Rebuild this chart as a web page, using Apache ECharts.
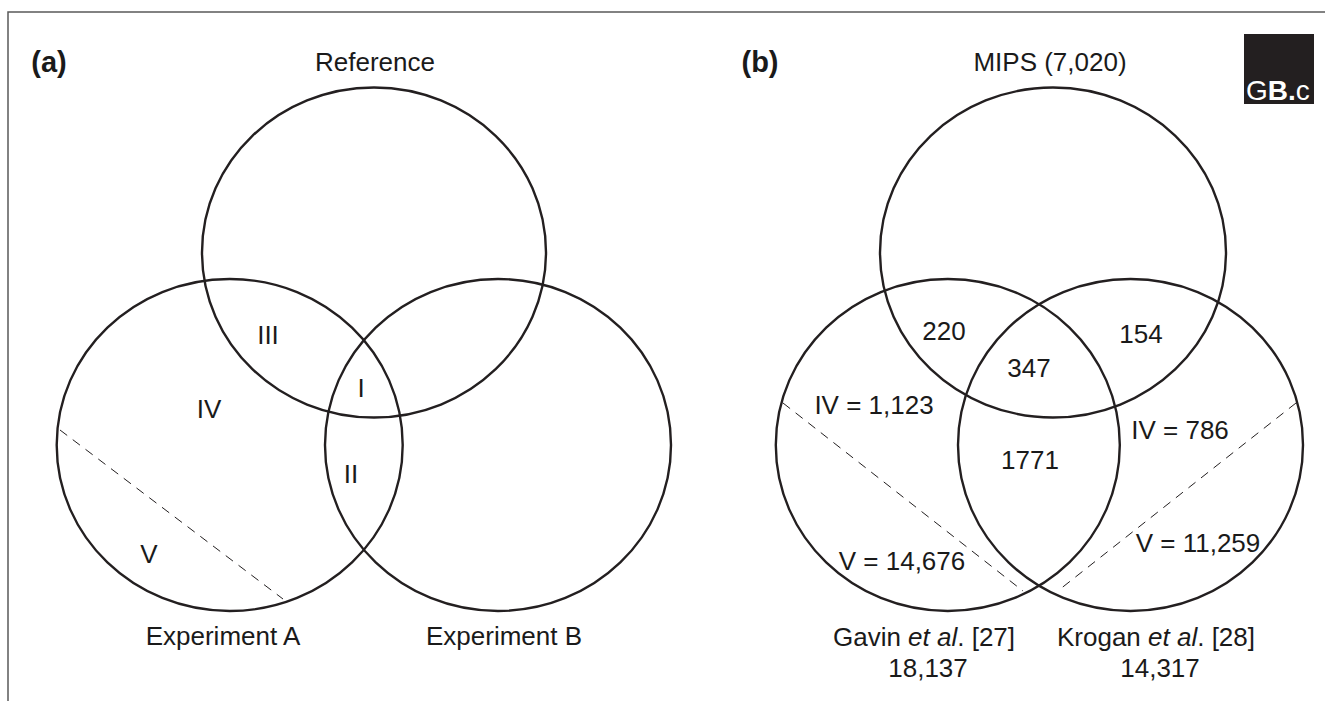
<!DOCTYPE html>
<html>
<head>
<meta charset="utf-8">
<script src="https://cdn.jsdelivr.net/npm/echarts@6/dist/echarts.min.js"></script>
<style>
  html, body { margin: 0; padding: 0; background: #ffffff; }
  #chart { width: 1325px; height: 701px; }
</style>
</head>
<body>
<div id="chart"></div>
<script>
// ---------- data (text/values) ----------
const panelTags = ['(a)', '(b)'];
const setNamesA = ['Reference', 'Experiment A', 'Experiment B'];
const regionNamesA = ['I', 'II', 'III', 'IV', 'V'];
const setNamesB = ['MIPS (7,020)', 'Gavin {i|et al}. [27]', 'Krogan {i|et al}. [28]'];
const setSizesB = ['18,137', '14,317'];
const overlapValuesB = [220, 347, 154, 1771];
const regionIVB = ['IV = 1,123', 'IV = 786'];
const regionVB = ['V = 14,676', 'V = 11,259'];

// ---------- layout (in data units of a hidden 1325 x 701 plane) ----------
const circlesA = [[374, 252.5, 172, 165], [229.7, 445, 173, 166], [498, 445, 173, 166]];
const circlesB = [[1053, 252.5, 173, 165], [947.8, 445, 172, 166], [1130.5, 445, 172.5, 166]];
const dashLines = [[60, 430, 283, 599], [783, 403, 1023, 591], [1296, 403, 1059, 590]];
const tagPos = [[49, 62], [760, 62]];
const setNamePosA = [[375, 62], [223, 636], [504, 636]];
const regionPosA = [[361, 388], [351, 474], [268, 335], [209, 409], [149, 554]];
const setNamePosB = [[1050, 62], [924, 637], [1156, 637]];
const setSizePosB = [[928, 668], [1160, 668]];
const overlapPosB = [[944, 331], [1029, 368], [1141, 334], [1030, 460]];
const regionIVPosB = [[874, 405], [1180, 430]];
const regionVPosB = [[902, 561], [1198, 543]];

const INK = '#1a1a1a';
const FONT = '"Liberation Sans", Arial, Helvetica, sans-serif';

function textItems(texts, positions) {
  return texts.map((t, i) => ({ value: [positions[i][0], positions[i][1]], text: String(t) }));
}

const labelData = []
  .concat(textItems(setNamesA, setNamePosA))
  .concat(textItems(regionNamesA, regionPosA))
  .concat(textItems(setNamesB, setNamePosB))
  .concat(textItems(setSizesB, setSizePosB))
  .concat(textItems(overlapValuesB, overlapPosB))
  .concat(textItems(regionIVB, regionIVPosB))
  .concat(textItems(regionVB, regionVPosB));

const tagData = textItems(panelTags, tagPos);

function ellipseSeries(data) {
  return {
    type: 'custom',
    silent: true,
    data: data,
    renderItem: function (params, api) {
      const c = api.coord([api.value(0), api.value(1)]);
      const s = api.size([api.value(2), api.value(3)]);
      return {
        type: 'ellipse',
        shape: { cx: c[0], cy: c[1], rx: Math.abs(s[0]), ry: Math.abs(s[1]) },
        style: { fill: 'none', stroke: '#231f20', lineWidth: 2.4 }
      };
    }
  };
}

const chart = echarts.init(document.getElementById('chart'), null, { renderer: 'svg' });

chart.setOption({
  animation: false,
  backgroundColor: '#ffffff',
  grid: { left: 0, right: 0, top: 0, bottom: 0 },
  xAxis: { type: 'value', min: 0, max: 1325, show: false },
  yAxis: { type: 'value', min: 0, max: 701, inverse: true, show: false },
  graphic: [
    {
      type: 'polyline',
      silent: true,
      shape: { points: [[8, 701], [8, 12], [1325, 12]] },
      style: { fill: 'none', stroke: '#5a5a5a', lineWidth: 1.5 }
    },
    {
      type: 'rect',
      silent: true,
      shape: { x: 1244, y: 34, width: 70, height: 70 },
      style: { fill: '#231f20' }
    },
    {
      type: 'text',
      silent: true,
      x: 1246, y: 104,
      style: {
        text: '{g|G}{b|B.}{d|c}',
        verticalAlign: 'bottom',
        rich: {
          g: { fontFamily: FONT, fontSize: 28, fill: '#ffffff', fontWeight: 'lighter' },
          b: { fontFamily: FONT, fontSize: 28, fill: '#ffffff', fontWeight: 'bold' },
          d: { fontFamily: FONT, fontSize: 28, fill: '#ffffff', fontWeight: 'lighter' }
        }
      }
    }
  ],
  series: [
    ellipseSeries(circlesA),
    ellipseSeries(circlesB),
    {
      type: 'custom',
      silent: true,
      data: dashLines,
      renderItem: function (params, api) {
        const p1 = api.coord([api.value(0), api.value(1)]);
        const p2 = api.coord([api.value(2), api.value(3)]);
        return {
          type: 'line',
          shape: { x1: p1[0], y1: p1[1], x2: p2[0], y2: p2[1] },
          style: { stroke: '#231f20', lineWidth: 1, lineDash: [9, 7] }
        };
      }
    },
    {
      type: 'scatter',
      silent: true,
      symbolSize: 1,
      itemStyle: { color: 'rgba(0,0,0,0)' },
      data: labelData,
      label: {
        show: true,
        position: 'inside',
        formatter: function (p) { return p.data.text; },
        color: INK,
        opacity: 1,
        textBorderWidth: 0,
        fontFamily: FONT,
        fontSize: 26,
        rich: {
          i: { fontStyle: 'italic', fontFamily: FONT, fontSize: 26, color: INK }
        }
      }
    },
    {
      type: 'scatter',
      silent: true,
      symbolSize: 1,
      itemStyle: { color: 'rgba(0,0,0,0)' },
      data: tagData,
      label: {
        show: true,
        position: 'inside',
        formatter: function (p) { return p.data.text; },
        color: INK,
        opacity: 1,
        textBorderWidth: 0,
        fontFamily: FONT,
        fontSize: 29,
        fontWeight: 'bold'
      }
    }
  ]
});
</script>
</body>
</html>
